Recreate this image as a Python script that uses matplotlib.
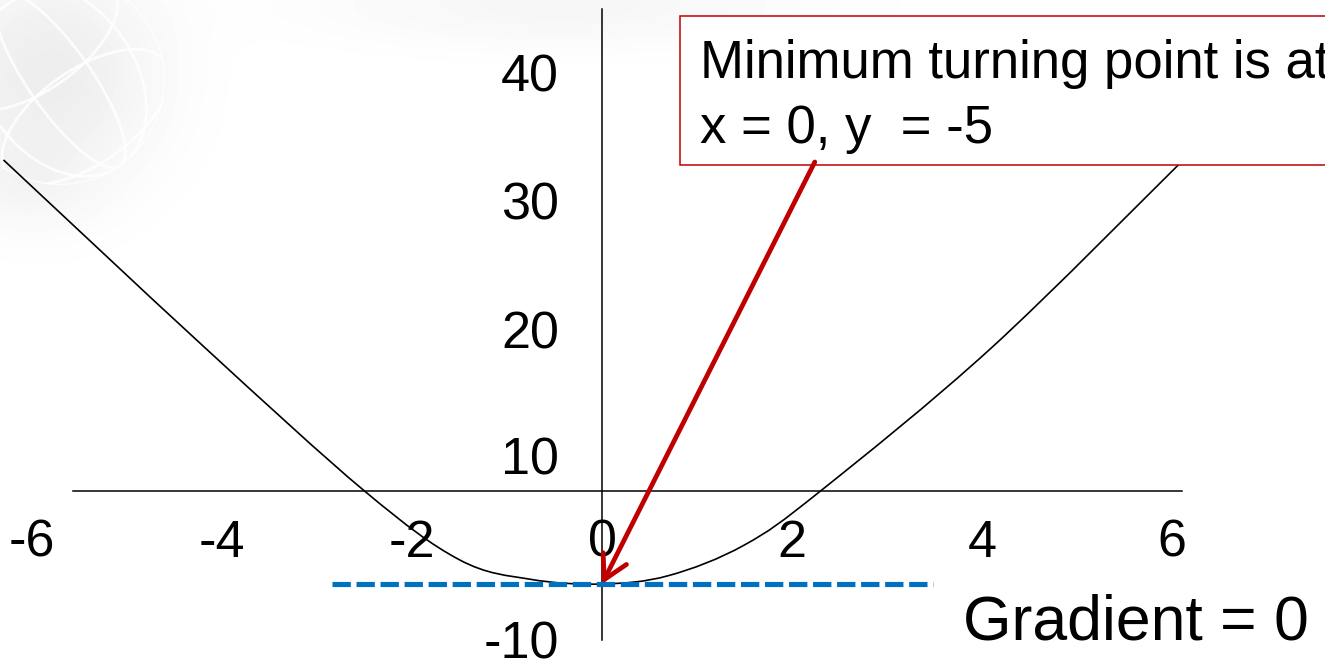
import numpy as np
import matplotlib
matplotlib.use("Agg")
import matplotlib.pyplot as plt
from matplotlib.patches import Rectangle, Ellipse, Circle, PathPatch
from matplotlib.path import Path

plt.rcParams["font.family"] = ["Liberation Sans", "DejaVu Sans"]
plt.rcParams["lines.scale_dashes"] = False

# ---- data -------------------------------------------------------------
curve_x = [-6.3, -4.2, -2.5, -1.5, -0.75, 0.0, 0.7, 1.5, 2.3, 4.1, 6.1]
curve_y = [17.8, 7.8, 0.0, -3.7, -4.75, -5.0, -4.55, -2.9, 0.0, 7.7, 17.7]

min_x, min_y = 0, -5                      # minimum turning point
tangent_x = [-2.84, 3.48]                 # extent of the zero-gradient line

x_ticks = [-6, -4, -2, 0, 2, 4, 6]
x_tick_labels = ["-6", "-4", "-2", "0", "2", "4", "6"]
y_tick_labels = ["40", "30", "20", "10", "-10"]

box_lines = ["Minimum turning point is at", "x = 0, y  = -5"]
gradient_text = "Gradient = 0"

# ---- layout -----------------------------------------------------------
W, H = 1325, 669
ORIGIN_PX = (602, 491)
PX_PER_X, PX_PER_Y = 95.0, 18.6
xlim = (-ORIGIN_PX[0] / PX_PER_X, (W - ORIGIN_PX[0]) / PX_PER_X)
ylim = ((ORIGIN_PX[1] - H) / PX_PER_Y, ORIGIN_PX[1] / PX_PER_Y)
y_tick_pos = [22.5, 15.6, 8.7, 1.9, -8.0]
arrow_start = (2.24, 17.69)

RED = "#C00000"
BLUE = "#0070C0"


def smooth_path(xs, ys):
    """Smoothed line through the points (Catmull-Rom drawn as cubic Beziers)."""
    pts = np.column_stack([xs, ys]).astype(float)
    n = len(pts)
    verts, codes = [pts[0]], [Path.MOVETO]
    for i in range(n - 1):
        p0 = pts[i - 1] if i > 0 else pts[i]
        p1, p2 = pts[i], pts[i + 1]
        p3 = pts[i + 2] if i + 2 < n else pts[i + 1]
        verts += [p1 + (p2 - p0) / 6.0, p2 - (p3 - p1) / 6.0, p2]
        codes += [Path.CURVE4] * 3
    return Path(verts, codes)


fig = plt.figure(figsize=(W / 100, H / 100), dpi=100)
ax = fig.add_axes([0, 0, 1, 1])

# soft slide background: grey haze with a faint globe in the corner
yy, xx = np.mgrid[0:H, 0:W].astype(float)
haze = 0.07 * np.exp(-(((xx - 50) / 105) ** 2 + ((yy - 75) / 105) ** 2))
haze += 0.035 * np.exp(-(((xx - 560) / 230) ** 2 + ((yy - 5) / 40) ** 2))
haze += 0.025 * np.exp(-(((xx - 25) / 70) ** 2 + ((yy - 185) / 45) ** 2))
bg = 1.0 - haze
ax.imshow(bg, extent=[xlim[0], xlim[1], ylim[0], ylim[1]], aspect="auto",
          cmap="gray", vmin=0, vmax=1, zorder=0, interpolation="bilinear")

gcx, gcy, gr = 60, H - 80, 105
globe = Circle((gcx, gcy), gr, transform=None, visible=False)
ax.add_patch(globe)
glines = [Ellipse((gcx, gcy), 2 * gr, 2 * gr, transform=None)]
for wfrac in (0.72, 0.3):
    glines.append(Ellipse((gcx, gcy), 2 * gr * wfrac, 2 * gr, angle=35,
                          transform=None))
for off in (-45, 45):
    ox, oy = off * np.cos(np.radians(125)), off * np.sin(np.radians(125))
    glines.append(Ellipse((gcx + ox, gcy + oy), 2 * gr * 0.92, 2 * gr * 0.45,
                          angle=35, transform=None))
for e in glines:
    e.set_fill(False)
    e.set_edgecolor("white")
    e.set_linewidth(2.0)
    e.set_alpha(0.85)
    e.set_zorder(0.5)
    ax.add_patch(e)
    e.set_clip_path(globe)

ax.set_xlim(*xlim)
ax.set_ylim(*ylim)

# axes through the origin
for side in ("top", "right"):
    ax.spines[side].set_visible(False)
ax.spines["bottom"].set_position(("data", 0))
ax.spines["bottom"].set_bounds(-5.57, 6.11)
ax.spines["left"].set_position(("data", 0))
ax.spines["left"].set_bounds(-8.0, 25.9)
for side in ("bottom", "left"):
    ax.spines[side].set_linewidth(1.1)
    ax.spines[side].set_color("black")
    ax.spines[side].set_zorder(2)

ax.set_xticks(x_ticks, x_tick_labels)
ax.set_yticks(y_tick_pos, y_tick_labels)
ax.tick_params(axis="x", length=0, pad=20, labelsize=37.5)
ax.tick_params(axis="y", length=0, pad=31, labelsize=37.5)

# smoothed curve through the plotted points
ax.add_patch(PathPatch(smooth_path(curve_x, curve_y), fill=False,
                       ec="black", lw=1.2, zorder=3, joinstyle="round"))

# zero-gradient tangent at the minimum
ax.plot(tangent_x, [min_y, min_y], color=BLUE, lw=3.7, dashes=(13.2, 4.1),
        dash_capstyle="butt", zorder=4)

# arrow from the note to the turning point
ax.annotate("", xy=(min_x, min_y), xytext=arrow_start,
            arrowprops=dict(arrowstyle="->,head_length=0.85,head_width=0.47",
                            color=RED, lw=3.4, mutation_scale=20,
                            shrinkA=0, shrinkB=0),
            zorder=5)

# note box
ax.add_patch(Rectangle((680 / W, 1 - 165 / H), (W + 20 - 680) / W, 149 / H,
                       transform=ax.transAxes, fill=True, fc="white",
                       ec=RED, lw=1.1, zorder=4, clip_on=False))
ax.text(700 / W, 1 - 78 / H, box_lines[0], transform=ax.transAxes,
        fontsize=38, va="baseline", ha="left", zorder=6)
ax.text(700 / W, 1 - 143 / H, box_lines[1], transform=ax.transAxes,
        fontsize=38, va="baseline", ha="left", zorder=6)

ax.text(963 / W, 1 - 640 / H, gradient_text, transform=ax.transAxes,
        fontsize=45, va="baseline", ha="left", zorder=6)

fig.savefig("out.png", dpi=100)
